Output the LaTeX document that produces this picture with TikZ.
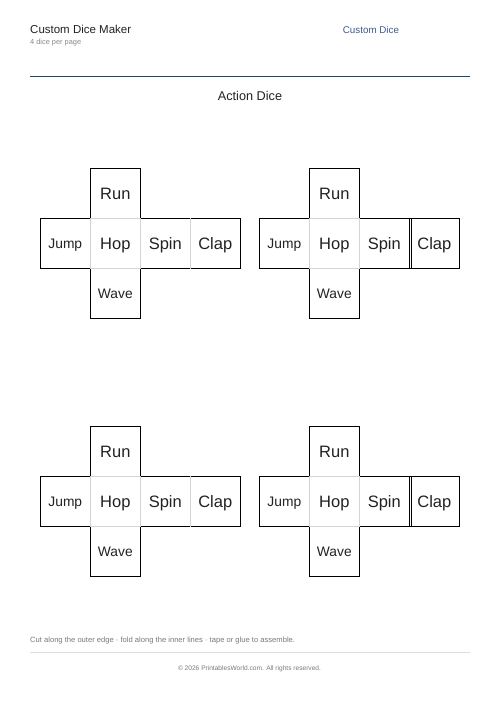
\documentclass[tikz,border=0pt]{standalone}
\usepackage{fontspec}
\setmainfont{Liberation Sans}
\definecolor{ink}{HTML}{222222}
\definecolor{subgray}{HTML}{8A8A8A}
\definecolor{linkblue}{HTML}{3D5A8F}
\definecolor{rulecol}{HTML}{1E4A66}
\definecolor{foldgray}{HTML}{D4D4D4}
\definecolor{footgray}{HTML}{7A7A7A}
\definecolor{footrule}{HTML}{DDDDDD}
\tikzset{
  face/.style={draw=black, line width=0.9pt, minimum size=50pt, inner sep=0pt, text=ink},
  bigtext/.style={font=\fontsize{16.5}{18}\selectfont, text height=11.8pt, text depth=0pt},
  smalltext/.style={font=\fontsize{13.8}{16}\selectfont, text height=9.9pt, text depth=0pt},
  hopface/.style={face, draw=foldgray},
  foldline/.style={draw=foldgray, line width=0.9pt},
  edgeline/.style={draw=black, line width=0.8pt},
  lbl/.style={inner sep=0pt, anchor=base west},
  clbl/.style={inner sep=0pt, anchor=base}
}
\newcommand{\dienet}[4]{%
  \node[face,smalltext] (#1jump) at (#2+25,#3+25) {Jump};
  \node[face,bigtext] (#1spin) at (#2+125,#3+25) {Spin};
  \node[face,bigtext] (#1clap) at (#2+175,#3+25) {Clap};
  \node[face,bigtext] (#1run) at (#2+75,#3-25) {Run};
  \node[face,smalltext] (#1wave) at (#2+75,#3+75) {Wave};
  \node[hopface,bigtext] (#1hop) at (#2+75,#3+25) {Hop};
  #4
}
\begin{document}
\begin{tikzpicture}[x=1pt,y=-1pt]
\useasboundingbox[fill=white] (0,0) rectangle (500,708);
% header
\node[lbl, text=ink, font=\fontsize{11.5}{13}\selectfont] (title) at (30,33.3) {Custom Dice Maker};
\node[lbl, text=subgray, font=\fontsize{7.4}{9}\selectfont] (sub) at (30,45) {4 dice per page};
\node[lbl, text=linkblue, font=\fontsize{9.8}{11}\selectfont] (link) at (342.7,33.3) {Custom Dice};
\coordinate (hrl) at (30,77);
\coordinate (hrr) at (470,77);
\draw[rulecol, line width=1pt] (hrl) -- (hrr);
\node[clbl, text=ink, font=\fontsize{12.7}{15}\selectfont] (heading) at (250,100.5) {Action Dice};
% dice
\dienet{da}{40.3}{218.3}{\draw[foldline] (daspin.north east) -- (daspin.south east);}
\dienet{db}{259.3}{218.3}{\draw[edgeline] ([xshift=1.6pt]dbspin.north east) -- ([xshift=1.6pt]dbspin.south east);}
\dienet{dc}{40.3}{476.3}{\draw[foldline] (dcspin.north east) -- (dcspin.south east);}
\dienet{dd}{259.3}{476.3}{\draw[edgeline] ([xshift=1.6pt]ddspin.north east) -- ([xshift=1.6pt]ddspin.south east);}
% footer
\node[lbl, text=footgray, font=\fontsize{7.6}{9}\selectfont] (note) at (30,642.7) {Cut along the outer edge · fold along the inner lines · tape or glue to assemble.};
\coordinate (frl) at (30,652.3);
\coordinate (frr) at (470,652.3);
\draw[footrule, line width=0.8pt] (frl) -- (frr);
\node[clbl, text=footgray, font=\fontsize{6.6}{8}\selectfont] (copy) at (249.5,670.7) {© 2026 PrintablesWorld.com. All rights reserved.};
\end{tikzpicture}
\end{document}
